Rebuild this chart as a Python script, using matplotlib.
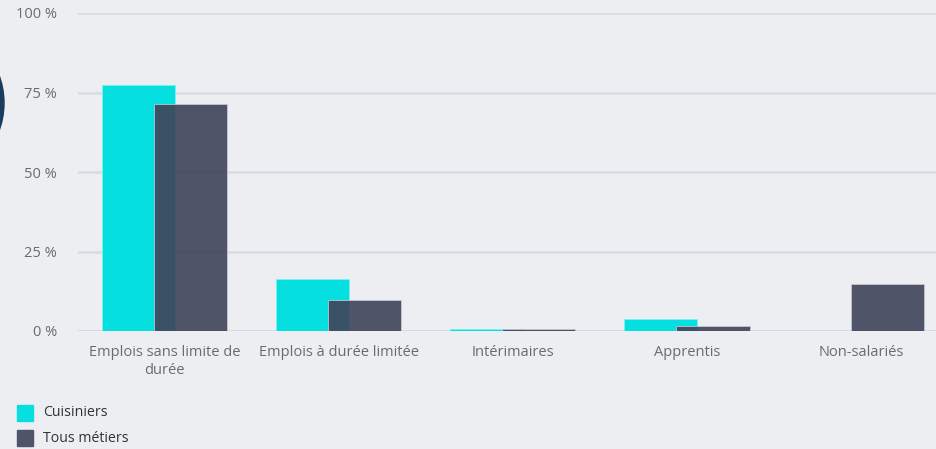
import numpy as np
import matplotlib
matplotlib.use('Agg')
import matplotlib.pyplot as plt
from matplotlib.patches import Circle, Rectangle

categories = ["Emplois sans limite de\ndurée", "Emplois à durée limitée",
              "Intérimaires", "Apprentis", "Non-salariés"]
cuisiniers = [77.5, 16.4, 0.6, 3.8, 0.0]
tous_metiers = [71.4, 9.7, 0.6, 1.6, 14.8]
yticks = [0, 25, 50, 75, 100]
ytick_labels = ["0 %", "25 %", "50 %", "75 %", "100 %"]

BG = "#eceef1"
CYAN = "#05dfe0"
DARK = "#3f4359"
TXT = "#6b6b6b"

plt.rcParams['font.family'] = ['Open Sans', 'DejaVu Sans']

fig = plt.figure(figsize=(9.36, 4.49), dpi=100, facecolor=BG)
W, H = 936, 449
# axes: x from 78px to 936px, y=0 at 331px, y=100 at 13px
ax = fig.add_axes([78 / W, 1 - 331 / H, (936 - 78) / W, (331 - 13) / H])
ax.set_facecolor(BG)

x = np.arange(len(categories))
ax.bar(x - 0.15, cuisiniers, width=0.42, color=CYAN, edgecolor="#7ff0f0",
       linewidth=0.6, zorder=3)
ax.bar(x + 0.15, tous_metiers, width=0.42, color=DARK, alpha=0.9,
       edgecolor="#c8cad6", linewidth=0.6, zorder=4)

ax.set_xlim(-0.496, 4.43)
ax.set_ylim(0, 100)
ax.set_yticks(yticks)
ax.set_yticklabels(ytick_labels)
ax.set_xticks(x)
ax.set_xticklabels(categories, linespacing=1.3)
ax.tick_params(axis='both', length=0, colors=TXT, labelsize=10.5)
ax.tick_params(axis='y', pad=15)
ax.tick_params(axis='x', pad=10)
for lab in ax.get_xticklabels():
    lab.set_horizontalalignment('center')

ax.grid(axis='y', color="#d6dde2", linewidth=1.8, zorder=0)
ax.set_axisbelow(True)
for s in ax.spines.values():
    s.set_visible(False)
ax.axhline(0, color="#d3dae8", linewidth=2, zorder=2)

# legend squares, placed by hand in pixel space
fig.patches.append(Rectangle((17 / W, 1 - 421 / H), 16 / W, 16 / H,
                             transform=fig.transFigure, color=CYAN))
fig.patches.append(Rectangle((17 / W, 1 - 446 / H), 16 / W, 16 / H,
                             transform=fig.transFigure, color="#4f5468"))
fig.text(43 / W, 1 - 413 / H, "Cuisiniers", color="#333333", fontsize=10.2, va='center')
fig.text(43 / W, 1 - 438 / H, "Tous métiers", color="#333333", fontsize=10.2, va='center')

# partially visible dark circle at the left border
fig.patches.append(Circle((-76, H - 103), 80, transform=None, color="#1b3a5c"))

fig.savefig("out.png", dpi=100, facecolor=BG)
